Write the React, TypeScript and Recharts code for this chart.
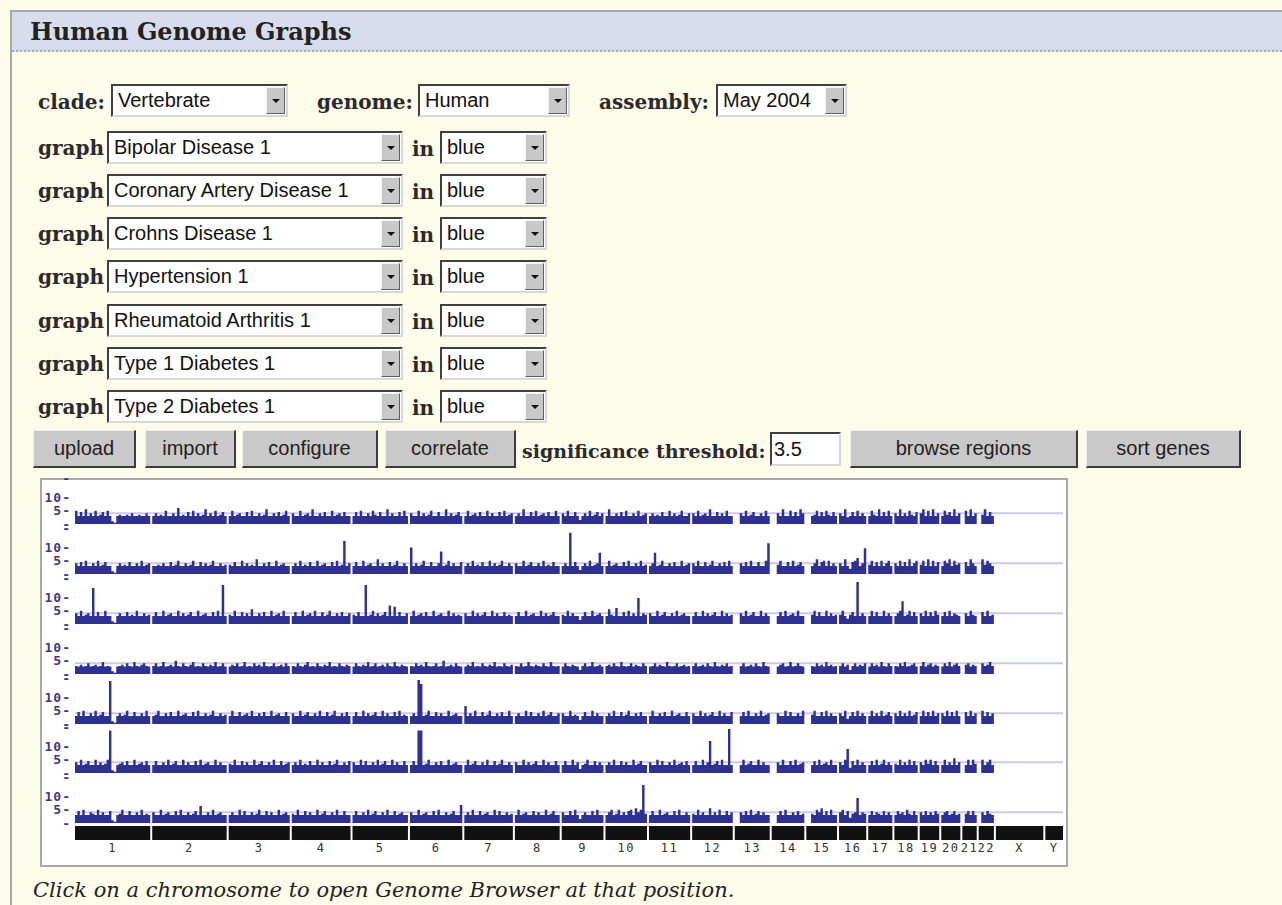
import { ComposedChart, Area, XAxis, YAxis, ReferenceLine } from 'recharts';

// chromosome layout (hg17, Mb)
const chromNames = ['1', '2', '3', '4', '5', '6', '7', '8', '9', '10', '11', '12', '13', '14', '15', '16', '17', '18', '19', '20', '21', '22', 'X', 'Y'];
const chromSizes = [245.5, 243.0, 199.4, 191.7, 181.0, 170.9, 158.5, 146.3, 136.4, 135.4, 134.5, 132.5, 114.1, 106.4, 100.3, 88.8, 78.8, 76.1, 63.8, 62.4, 46.9, 49.6, 154.8, 57.7];
const GAP = 6.5;

const graphNames = ['Bipolar Disease 1', 'Coronary Artery Disease 1', 'Crohns Disease 1', 'Hypertension 1', 'Rheumatoid Arthritis 1', 'Type 1 Diabetes 1', 'Type 2 Diabetes 1'];
const trackTicks = [0, 5, 10, 17];
const threshold = 4;

type Bins = (number | null)[][];

// -log10 p per ~8Mb bin, one array per chromosome 1..22
const bipolar: Bins = [
  [5, 3, 4.5, 3, 5.5, 3, 4, 3, 5, 3, 3.5, 4.5, 3, 5, 3, 1, 0.5, 3, 3.5, 3, 3, 3.5, 3, 4, 3, 3, 3.5, 3, 3, 4, 3],
  [3, 4, 3, 3.5, 3, 5, 3, 3, 4, 3, 6, 3, 3.5, 3, 4.5, 3, 5, 3, 4, 3, 3.5, 5.5, 3, 4, 3, 5, 3, 3.5, 4.5, 3],
  [3, 5, 3, 3.5, 4, 3, 3, 4.5, 3, 5, 3, 3, 4, 3, 3.5, 5.5, 3, 3, 4, 3, 4.5, 3, 3.5, 5, 3],
  [4, 3, 3, 5, 3, 3.5, 4, 3, 5.5, 3, 3, 4, 3, 4.5, 3, 3, 5, 3, 3.5, 4, 3, 4.5, 3, 3],
  [3, 4.5, 3, 5, 3, 3, 4, 3, 5, 3.5, 3, 4.5, 3, 3, 5.5, 3, 4, 3, 3, 4.5, 3, 5, 3],
  [4, 3, 3, 5, 3, 4, 3, 3.5, 5, 3, 3, 4.5, 3, 3, 5.5, 3, 4, 3, 3.5, 4.5, 3],
  [3, 5, 3, 3.5, 4, 3, 4.5, 3, 3, 5, 3, 4, 3, 3, 4.5, 3, 5, 3, 3.5, 4],
  [3, 4, 3, 5.5, 3, 3, 4.5, 3, 5, 3, 3.5, 4, 3, 4.5, 3, 3, 5, 3],
  [4, 3, 5, 3, 3, 4.5, 3, 1.5, 3, 4, 3, 5, 3, 3.5, 4.5, 3, 4],
  [3, 5.5, 3, 3, 4, 3, 4.5, 3, 5, 3, 3, 4, 3, 5, 3, 3.5, 4],
  [3, 4, 3, 3.5, 3, 4.5, 3, 3, 5, 3, 4, 3, 3.5, 5, 3, 3, 4],
  [4, 3, 5, 3, 3.5, 4, 3, 5.5, 3, 3, 4.5, 3, 4, 3, 5, 3, 3],
  [null, null, 4, 3, 5, 3, 3.5, 4.5, 3, 3, 4, 3, 5, 3],
  [null, null, 4, 3, 5.5, 3, 3, 5, 3, 4.5, 3, 5.5, 4],
  [null, null, 3, 3.5, 5, 3, 4.5, 3, 5, 3.5, 3, 4.5, 3],
  [4, 3, 5.5, 2.5, 3, 4.5, 3, 5, 3, 4, 3],
  [3, 5, 3.5, 3, 5.5, 3, 4.5, 3, 5, 3],
  [4, 3, 5.5, 3, 4, 3, 5, 3.5, 3, 4.5],
  [4, 5.5, 3, 5, 3, 5.5, 3, 4],
  [3, 5, 3.5, 4.5, 3, 5.5, 3, 4],
  [null, 5, 3, 5.5, 3, 4],
  [null, 3.5, 5.5, 3, 4.5, 3],
];

const cad: Bins = [
  [4, 3, 4.5, 3, 5, 3, 3, 4, 3, 5, 3, 3.5, 4.5, 3, 3, 1, 0.5, 3, 4, 3, 3.5, 3, 4.5, 3, 3, 4, 3, 5, 3, 3.5, 4],
  [3, 3, 3.5, 3, 4, 3, 3, 4.5, 3, 3.5, 5, 3, 3, 4, 3, 3.5, 5, 3, 3, 4.5, 3, 4, 3, 3.5, 5, 3, 3, 4, 3, 3.5],
  [3.5, 3, 4.5, 3, 3, 5, 3, 4, 3, 3.5, 3, 5.5, 3, 3, 4, 3, 4.5, 3, 3, 5, 3, 3.5, 4, 3, 3],
  [3, 4, 3, 5, 3, 3.5, 3, 4.5, 3, 3, 5, 3, 3.5, 4, 3, 3, 4.5, 3, 5, 3, 3.5, 12.4, 3, 4],
  [3, 4.5, 3, 3, 5, 3, 3.5, 4, 3, 3, 5.5, 3, 4, 3, 3, 4.5, 3, 3.5, 5, 3, 3, 4, 3],
  [10, 3, 4, 3, 3.5, 5, 3, 3, 4.5, 3, 3, 4, 8.5, 3, 3.5, 5, 3, 4, 3, 3, 4.5],
  [3, 4, 3, 5, 3, 3.5, 3, 4.5, 3, 3, 5, 3, 4, 3, 3.5, 5, 3, 3, 4, 3],
  [4, 3, 3, 5, 3, 3.5, 4.5, 3, 3, 4, 3, 5, 3, 3.5, 3, 4.5, 3, 3],
  [3, 4, 3, 15.5, 3, 4.5, 3, 1.5, 3, 4, 3, 5, 3, 3.5, 4, 8, 3],
  [3, 5, 3, 3.5, 4, 3, 3, 4.5, 3, 5, 3, 3, 4, 3, 5, 3, 3.5],
  [3, 4, 8, 3, 3.5, 5, 3, 3, 4, 3, 4.5, 3, 3, 5, 3, 3.5, 4],
  [4, 3, 5, 3, 3, 4.5, 3, 3.5, 5, 3, 3, 4, 3, 4.5, 3, 5, 3],
  [null, null, 4, 3, 4.5, 3, 5, 3, 3, 4.5, 3, 3, 5, 11.6],
  [null, null, 3.5, 5, 3, 3, 4.5, 3, 5, 3, 3.5, 4.5, 3],
  [null, null, 3, 4, 5.5, 3, 4.5, 5, 3, 5, 3, 4, 3],
  [4, 3, 5.5, 3, 2, 4.5, 5, 6, 3, 4, 9.7],
  [3.5, 5, 3, 4.5, 3, 5, 3, 4, 5, 3],
  [4, 3, 5, 3, 4.5, 3, 5.5, 3, 4, 5],
  [3.5, 5, 3, 5.5, 3, 5, 3, 4.5],
  [3, 5, 4, 5.5, 3, 5, 3.5, 4],
  [null, 4.5, 3, 5.5, 4, 3],
  [null, 5.5, 3.5, 5, 4, 3],
];

const crohns: Bins = [
  [4, 3, 5, 3, 3.5, 4, 3, 13.5, 3, 4.5, 3, 3, 5, 3, 3, 1, 0.5, 3, 4, 3, 3, 4.5, 3, 3.5, 3, 5, 3, 3, 4, 3, 3.5],
  [3, 4.5, 3, 3, 5, 3, 3.5, 4, 3, 3, 5, 3, 4, 3, 3.5, 4.5, 3, 3, 5, 3, 3.5, 4, 3, 3, 4.5, 3, 5, 3, 14.7, 3],
  [3.5, 3, 5, 3, 3, 4.5, 3, 4, 3, 5.5, 3, 3, 4, 3, 4.5, 3, 3, 5, 3, 3.5, 4, 3, 5, 3, 3],
  [3, 4.5, 3, 3, 5, 3, 3.5, 4, 3, 5, 3, 3, 4.5, 3, 3.5, 5, 3, 3, 4, 3, 4.5, 3, 3, 4],
  [3.5, 3, 4.5, 3, 3, 14.7, 3, 3.5, 5, 3, 4, 3, 3.5, 4.5, 3, 7, 3, 6.5, 3, 4.5, 3, 3, 4],
  [3, 5, 3, 3.5, 4, 3, 4.5, 3, 3, 5, 3, 3.5, 4, 3, 3, 5, 3, 4, 3, 3.5, 3],
  [4, 3, 3, 5, 3, 4, 3, 3.5, 4.5, 3, 3, 5, 3, 4, 3, 3, 4.5, 3, 3.5, 3],
  [3, 4.5, 3, 3, 5, 3, 3.5, 4, 3, 3, 5, 3, 4, 3, 3.5, 4.5, 3, 3],
  [3.5, 3, 5, 3, 4, 3, 3, 1.5, 3, 4.5, 3, 3, 5, 3, 3.5, 4, 3],
  [3, 5.5, 3.5, 3, 6, 3, 3, 4.5, 3, 5, 3, 4, 3, 9.8, 3, 4, 3.5],
  [4, 3, 3, 5, 3, 3.5, 4.5, 3, 3, 4, 3, 5, 3, 3.5, 4, 3, 3],
  [3, 4.5, 3, 3, 5, 3, 4, 3, 3.5, 4.5, 3, 3, 5, 3, 4, 3, 3.5],
  [null, null, 4, 3, 5, 3, 3.5, 4.5, 3, 3, 5, 3, 4, 3],
  [null, null, 3, 4.5, 3, 5, 3, 3.5, 4, 3, 5, 3, 3],
  [null, null, 3.5, 5, 3, 4.5, 3, 3, 5, 3, 4, 3, 3.5],
  [3.5, 5, 3, 2, 3.5, 4.5, 3, 15.8, 3, 4, 3],
  [3, 5, 3, 4.5, 3, 3, 5, 3, 4, 3],
  [3, 4, 5, 8.6, 3, 3.5, 5, 3, 4.5, 3],
  [4, 3, 5, 3, 4.5, 3, 5, 3.5],
  [3, 4.5, 3, 5, 3, 4, 3.5, 3],
  [null, 4, 3, 5, 3.5, 3],
  [null, 4.5, 3, 5, 3, 3.5],
];

const hypertension: Bins = [
  [3, 2.8, 3.5, 2.8, 3, 4, 2.8, 3, 3.5, 2.8, 3, 4.5, 2.8, 3, 2.8, 1, 0.5, 2.8, 3, 3.5, 2.8, 4, 3, 2.8, 4.5, 3, 2.8, 3.5, 4, 3, 2.8],
  [3, 4, 2.8, 3, 4.5, 2.8, 3, 3.5, 2.8, 5, 3, 2.8, 4, 3, 2.8, 3.5, 4.5, 2.8, 3, 2.8, 4, 3, 2.8, 3.5, 3, 4.5, 2.8, 3, 4, 2.8],
  [2.8, 3.5, 3, 4, 2.8, 3, 4.5, 2.8, 3, 2.8, 4, 3, 3.5, 2.8, 4.5, 3, 2.8, 3, 4, 2.8, 3, 3.5, 2.8, 4, 3],
  [3, 2.8, 4, 3, 2.8, 3.5, 4.5, 2.8, 3, 2.8, 4, 3, 2.8, 3.5, 3, 4.5, 2.8, 3, 2.8, 4, 3, 2.8, 3.5, 3],
  [2.8, 4, 3, 2.8, 3.5, 3, 4.5, 2.8, 3, 4, 2.8, 3, 3.5, 2.8, 4, 3, 2.8, 4.5, 3, 2.8, 3.5, 3, 2.8],
  [3, 2.8, 4, 3, 3.5, 2.8, 4.5, 3, 2.8, 3, 4, 2.8, 3, 5, 2.8, 3, 3.5, 2.8, 4, 3, 2.8],
  [2.8, 3.5, 3, 4.5, 2.8, 3, 2.8, 4, 3, 2.8, 3.5, 3, 4.5, 2.8, 3, 2.8, 4, 3, 2.8, 3.5],
  [3, 2.8, 4, 2.8, 3, 4.5, 3, 2.8, 3.5, 3, 2.8, 4, 3, 2.8, 4.5, 3, 2.8, 3],
  [2.8, 4, 3, 2.8, 3.5, 3, 2.8, 1.5, 3, 4, 2.8, 3, 4.5, 2.8, 3, 3.5, 2.8],
  [3, 3.5, 2.8, 4, 3, 2.8, 4.5, 3, 2.8, 3, 4, 2.8, 3.5, 3, 2.8, 4, 3],
  [2.8, 3, 4, 2.8, 3.5, 3, 2.8, 4.5, 3, 2.8, 3, 4, 2.8, 3, 3.5, 2.8, 3],
  [3, 4, 2.8, 3, 3.5, 2.8, 4, 3, 2.8, 4.5, 3, 2.8, 3.5, 3, 4, 2.8, 3],
  [null, null, 3, 4, 2.8, 3, 3.5, 2.8, 4, 3, 2.8, 4.5, 3, 2.8],
  [null, null, 2.8, 3.5, 4, 2.8, 3, 4.5, 2.8, 3, 4, 3, 2.8],
  [null, null, 3, 2.8, 4, 3, 3.5, 2.8, 4.5, 3, 3.5, 2.8, 3],
  [3, 4, 2.8, 3.5, 1.5, 3, 4, 2.8, 3.5, 3, 4],
  [2.8, 4, 3, 3.5, 2.8, 4.5, 3, 2.8, 4, 3],
  [3, 2.8, 4, 3, 4.5, 2.8, 3, 3.5, 4, 2.8],
  [3, 4.5, 2.8, 3.5, 4, 2.8, 3.5, 3],
  [2.8, 4, 3, 4.5, 2.8, 3.5, 4, 3],
  [null, 3.5, 4, 2.8, 3.5, 3],
  [null, 4, 3, 3.5, 4.5, 3],
];

const rheumatoid: Bins = [
  [3, 4.5, 3, 5, 3, 3, 4, 3, 5, 3, 3.5, 4.5, 3, 3, 16.2, 1, 0.5, 3, 4, 3, 3.5, 5, 3, 3, 4.5, 3, 3, 4, 3, 5, 3],
  [3, 3.5, 5, 3, 3, 4, 3, 4.5, 3, 3, 5, 3, 3.5, 4, 3, 3, 4.5, 3, 5, 3, 3, 4, 3, 3.5, 5, 3, 3, 4, 3, 3.5],
  [3, 5, 3, 3, 4.5, 3, 3.5, 4, 3, 5, 3, 3, 4, 3, 4.5, 3, 3, 5, 3, 3.5, 4, 3, 3, 4.5, 3],
  [4, 3, 3, 5, 3, 3.5, 4.5, 3, 3, 4, 3, 5, 3, 3, 4.5, 3, 3.5, 5, 3, 3, 4, 3, 4.5, 3],
  [3, 4.5, 3, 3, 5, 3, 4, 3, 3.5, 4.5, 3, 3, 5, 3, 4, 3, 3, 4.5, 3, 5, 3, 3.5, 3],
  [3, 4, 3, 16.5, 15, 3, 3.5, 5, 3, 3, 4.5, 3, 4, 3, 3, 5, 3, 3.5, 4, 3, 3],
  [6.8, 3, 4, 3, 5, 3, 3, 4.5, 3, 3.5, 5, 3, 3, 4, 3, 4.5, 3, 3, 5, 3],
  [3, 4, 3, 3, 5, 3, 4.5, 3, 3, 4, 3, 5, 3, 3.5, 4.5, 3, 3, 4],
  [4, 3, 3, 5, 3, 3.5, 3, 1.5, 3, 4.5, 3, 3, 5, 3, 4, 3, 3],
  [3, 4, 3, 5, 3, 3, 4.5, 3, 3.5, 5, 3, 3, 4, 3, 4.5, 3, 3],
  [3, 5, 3, 3, 4, 3, 4.5, 3, 3, 5, 3, 3.5, 4, 3, 3, 4.5, 3],
  [4, 3, 3, 5, 3, 4, 3, 3.5, 4.5, 3, 3, 5, 3, 4, 3, 3, 4.5],
  [null, null, 3, 4.5, 3, 5, 3, 3, 4, 3, 5, 3, 3.5, 4],
  [null, null, 4, 3, 3, 5, 3, 4.5, 3, 3, 4, 3, 5],
  [null, null, 3.5, 5, 3, 3, 4.5, 3, 5, 3, 4, 3, 3],
  [4, 3, 5, 2, 3, 4.5, 3, 5, 3, 4, 3],
  [3, 5, 3, 4, 3, 5, 3, 3.5, 4.5, 3],
  [4, 3, 5, 3, 4, 3, 5, 3, 3.5, 4.5],
  [3, 5, 3, 4.5, 3, 5, 3, 4],
  [4, 3, 5, 3, 4.5, 3, 5, 3],
  [null, 4.5, 3, 5, 3, 4],
  [null, 5, 3, 4.5, 3, 4],
];

const t1d: Bins = [
  [4, 3, 5, 3, 3.5, 4.5, 3, 3, 5, 3, 4, 3, 3.5, 5, 16, 1, 0.5, 3, 3.5, 4, 3, 4.5, 3, 3, 5, 3, 3.5, 4, 3, 4.5, 3],
  [3, 4.5, 3, 3, 4, 3, 5, 3, 3.5, 4.5, 3, 3, 5, 3, 4, 3, 3, 4.5, 3, 5, 3, 3.5, 4, 3, 3, 5, 3, 4, 3, 3],
  [3.5, 3, 5, 3, 3, 4.5, 3, 4, 3, 3, 5, 3, 3.5, 4.5, 3, 3, 4, 3, 5, 3, 3, 4.5, 3, 3.5, 4],
  [3, 4, 3, 5, 3, 3.5, 3, 4.5, 3, 3, 5, 3, 4, 3, 3, 4.5, 3, 3.5, 5, 3, 3, 4, 3, 4.5],
  [4, 3, 3, 5, 3, 4.5, 3, 3, 4, 3, 5, 3, 3.5, 4.5, 3, 3, 5, 3, 4, 3, 3, 4.5, 3],
  [3, 4.5, 3, 16, 16, 3, 3.5, 5, 3, 3, 4, 3, 4.5, 3, 3, 5, 3, 3.5, 4, 3, 3],
  [3, 5, 3, 3.5, 4.5, 3, 3, 4, 3, 5, 3, 3, 4.5, 3, 3.5, 5, 3, 3, 4, 3],
  [4, 3, 3, 5, 3, 4, 3, 3.5, 4.5, 3, 3, 5, 3, 4, 3, 3, 4.5, 3],
  [3, 4.5, 3, 3, 5, 3, 4, 1.5, 3, 3.5, 5, 3, 3, 4.5, 3, 4, 3],
  [3, 4, 3, 5, 3, 3, 4.5, 3, 4, 3, 3, 5, 3, 3.5, 4.5, 3, 3],
  [4, 3, 3, 5, 3, 4.5, 3, 3, 4, 3, 5, 3, 3.5, 4, 3, 4.5, 3],
  [3, 4.5, 3, 3, 5, 3, 4, 12, 3, 3.5, 4.5, 3, 5, 3, 3, 16.5, 3],
  [null, null, 3, 5, 3, 3.5, 4.5, 3, 3, 5, 3, 4, 3, 3],
  [null, null, 4, 3, 5, 3, 3, 4.5, 3, 5, 3, 3.5, 4],
  [null, null, 3, 4.5, 3, 5, 3, 3.5, 4, 3, 5, 3, 3],
  [4, 3, 5, 9, 2, 4.5, 3, 5, 3, 4, 3],
  [3, 4.5, 3, 5, 3, 3.5, 5, 3, 4, 3],
  [3.5, 3, 5, 3, 4, 3, 5, 3, 4.5, 3],
  [4, 3, 5, 3.5, 5, 3, 4.5, 3],
  [3, 5, 3, 4, 3, 5.5, 3, 4],
  [null, 3, 5, 3, 5, 3.5],
  [null, 5, 3, 4, 5, 3],
];

const t2d: Bins = [
  [3, 4.5, 3, 5, 3, 3, 4, 3.5, 3, 5, 3, 4, 3, 3, 4.5, 1, 0.5, 3, 3.5, 5, 3, 3, 4.5, 3, 3, 4, 3, 5, 3, 3.5, 3],
  [4, 3, 3, 5, 3, 3.5, 4, 3, 3, 4.5, 3, 5, 3, 3, 4, 3, 3.5, 4.5, 3, 6.4, 3, 3, 4, 3, 5, 3, 3.5, 4, 3, 3],
  [3, 4, 3, 3, 5, 3, 4.5, 3, 3, 4, 3, 3.5, 5, 3, 3, 4.5, 3, 4, 3, 3, 5, 3, 3.5, 4, 3],
  [3.5, 3, 5, 3, 3, 4.5, 3, 4, 3, 3, 5, 3, 3.5, 4.5, 3, 3, 4, 3, 5, 3, 3, 4.5, 3, 3],
  [3, 4.5, 3, 3, 4, 3, 5, 3, 3.5, 4.5, 3, 3, 4, 3, 5, 3, 3, 4.5, 3, 3.5, 4, 3, 3],
  [4, 3, 3, 5, 3, 3.5, 4, 3, 3, 4.5, 3, 5, 3, 3, 4, 3, 3.5, 4.5, 3, 3, 6.8],
  [3, 4, 3, 5, 3, 3, 4.5, 3, 3.5, 4, 3, 3, 5, 3, 4.5, 3, 3, 4, 3, 3.5],
  [3, 5, 3, 3.5, 4, 3, 3, 4.5, 3, 4, 3, 3, 5, 3, 3.5, 4.5, 3, 3],
  [4, 3, 3, 4.5, 3, 5, 3, 1.5, 3, 4, 3, 3, 4.5, 3, 5, 3, 3],
  [3, 4, 5, 3, 3.5, 5, 3, 4, 3, 4.5, 5, 3, 5.5, 4, 5, 14.3, 3.5],
  [3, 4.5, 3, 3, 5, 3, 3.5, 4, 3, 3, 4.5, 3, 5, 3, 3, 4, 3],
  [3.5, 3, 5, 3, 4, 3, 3, 5.5, 3, 4, 3, 5, 3, 3, 4.5, 3, 4],
  [null, null, 4, 3, 4.5, 3, 5, 3, 3.5, 4.5, 3, 4, 3, 3],
  [null, null, 3, 4.5, 3, 5, 3, 3, 4, 3, 4.5, 3, 3.5],
  [null, null, 3.5, 3, 5, 4, 5.5, 3, 4.5, 3, 5, 3, 3],
  [4, 5, 3, 4.5, 2, 3.5, 4, 9.4, 3, 4, 3.5],
  [3, 4.5, 3, 4, 3.5, 3, 4.5, 3, 4, 3],
  [3, 4.5, 3.5, 4, 3, 5, 3.5, 3, 4.5, 3],
  [4, 3, 4.5, 3, 4, 3, 4.5, 3.5],
  [3, 4, 4.5, 3, 3.5, 4.5, 3, 3.5],
  [null, 3.5, 4.5, 3, 4.5, 3],
  [null, 4, 3, 4.5, 3.5, 3],
];

const tracks = [bipolar, cad, crohns, hypertension, rheumatoid, t1d, t2d];

const starts: number[] = [];
let acc = 0;
chromSizes.forEach((s) => {
  starts.push(acc);
  acc += s + GAP;
});
const TOTAL = acc - GAP;
const centers = chromSizes.map((s, i) => starts[i] + s / 2);

function buildTrack(values: Bins) {
  const rows: { x: number; y: number | null }[] = [];
  values.forEach((bins, c) => {
    const w = chromSizes[c] / bins.length;
    bins.forEach((v, j) => rows.push({ x: starts[c] + j * w, y: v }));
    rows.push({ x: starts[c] + chromSizes[c], y: bins[bins.length - 1] });
    rows.push({ x: starts[c] + chromSizes[c] + GAP / 2, y: null });
  });
  return rows;
}

// ideogram: one solid block per chromosome
const ideogram: { x: number; y: number | null }[] = [];
chromSizes.forEach((s, i) => {
  ideogram.push({ x: starts[i], y: 1 });
  ideogram.push({ x: starts[i] + s, y: 1 });
  ideogram.push({ x: starts[i] + s + GAP / 2, y: null });
});

const NAVY = '#2e3191';
const serifBold = { fontFamily: '"DejaVu Serif", serif', fontWeight: 700, color: '#2a2a2a' } as const;
const sans = '"Liberation Sans", Arial, sans-serif';

function TrackTick(props: any) {
  const { x, y, payload } = props;
  const v = payload.value;
  const label = v === 0 || v === 17 ? '-' : `${v}-`;
  return (
    <text x={x} y={y} textAnchor="end" dominantBaseline="central" fontFamily='"DejaVu Sans Mono", monospace' fontWeight={700} fontSize={13} letterSpacing={1} fill="#3a3a86">
      {label}
    </text>
  );
}

function ChromTick(props: any) {
  const { x, y, index } = props;
  return (
    <text x={x} y={y + 8} textAnchor="middle" dominantBaseline="central" fontFamily='"DejaVu Sans Mono", monospace' fontSize={12} letterSpacing={1.5} fill="#333">
      {chromNames[index]}
    </text>
  );
}

function Track({ values, top }: { values: Bins; top: number }) {
  const data = buildTrack(values);
  return (
    <div style={{ position: 'absolute', left: 40, top }}>
      <ComposedChart width={1027} height={54} data={data} margin={{ top: 0, right: 4, bottom: 4, left: 0 }}>
        <XAxis type="number" dataKey="x" domain={[0, TOTAL]} hide allowDataOverflow />
        <YAxis domain={[0, 18.8]} ticks={trackTicks} interval={0} width={35} axisLine={false} tickLine={false} tickSize={0} tickMargin={4} tick={<TrackTick />} allowDataOverflow />
        <ReferenceLine y={threshold} stroke="#cacaf0" strokeWidth={2} zIndex={0} />
        <Area type="stepAfter" dataKey="y" fill={NAVY} fillOpacity={1} stroke="none" connectNulls={false} dot={false} activeDot={false} isAnimationActive={false} />
      </ComposedChart>
    </div>
  );
}

function Select({ left, top, width, text }: { left: number; top: number; width: number; text: string }) {
  return (
    <div
      style={{
        position: 'absolute', left, top, width, height: 33, boxSizing: 'border-box', background: '#fff',
        borderTop: '2px solid #404040', borderLeft: '2px solid #404040', borderBottom: '2px solid #d8d8d8', borderRight: '2px solid #d8d8d8',
        fontFamily: sans, fontSize: 20, lineHeight: '29px', paddingLeft: 5, color: '#111', whiteSpace: 'nowrap', overflow: 'hidden',
      }}
    >
      {text}
      <div
        style={{
          position: 'absolute', right: 1, top: 1, bottom: 1, width: 17, background: '#c8c8c8',
          borderTop: '1px solid #f4f4f4', borderLeft: '1px solid #f4f4f4', borderRight: '1px solid #606060', borderBottom: '1px solid #606060',
        }}
      >
        <div style={{ position: 'absolute', left: 5, top: 11, width: 0, height: 0, borderLeft: '4px solid transparent', borderRight: '4px solid transparent', borderTop: '4px solid #111' }} />
      </div>
    </div>
  );
}

function Button({ left, width, text }: { left: number; width: number; text: string }) {
  return (
    <div
      style={{
        position: 'absolute', left, top: 430, width, height: 38, boxSizing: 'border-box', background: '#c9c9c9',
        borderTop: '1px solid #efefef', borderLeft: '1px solid #efefef', borderRight: '2px solid #3c3c3c', borderBottom: '2px solid #3c3c3c',
        fontFamily: sans, fontSize: 20, lineHeight: '34px', textAlign: 'center', color: '#222',
      }}
    >
      {text}
    </div>
  );
}

function Label({ left, top, text, size = 20 }: { left: number; top: number; text: string; size?: number }) {
  return (
    <div style={{ ...serifBold, position: 'absolute', left, top, fontSize: size, lineHeight: '33px', whiteSpace: 'nowrap' }}>
      {text}
    </div>
  );
}

const rowCenters = [147, 190, 233, 276, 320, 363, 406];

export default function App() {
  return (
    <div style={{ position: 'absolute', left: 0, top: 0, width: 1282, height: 905, background: '#fdfbea', overflow: 'hidden' }}>
      <div style={{ position: 'absolute', left: 10, top: 10, width: 1272, height: 895, borderLeft: '2px solid #a8a8a8', borderTop: '2px solid #a8a8a8', boxSizing: 'border-box' }} />
      <div style={{ position: 'absolute', left: 12, top: 12, width: 1270, height: 38, background: '#d8ddee', borderBottom: '2px dotted #a4aac4' }} />
      <div style={{ ...serifBold, position: 'absolute', left: 30, top: 16, fontSize: 24, lineHeight: '32px', color: '#222' }}>Human Genome Graphs</div>

      <Label left={38} top={86} text="clade:" />
      <Select left={111} top={84} width={177} text="Vertebrate" />
      <Label left={317} top={86} text="genome:" />
      <Select left={418} top={84} width={152} text="Human" />
      <Label left={599} top={86} text="assembly:" />
      <Select left={716} top={84} width={131} text="May 2004" />

      {graphNames.map((name, i) => (
        <div key={name}>
          <Label left={38} top={rowCenters[i] - 15} text="graph" />
          <Select left={107} top={rowCenters[i] - 16} width={296} text={name} />
          <Label left={412} top={rowCenters[i] - 14} text="in" />
          <Select left={440} top={rowCenters[i] - 16} width={107} text="blue" />
        </div>
      ))}

      <Button left={33} width={103} text="upload" />
      <Button left={145} width={91} text="import" />
      <Button left={242} width={136} text="configure" />
      <Button left={385} width={131} text="correlate" />
      <Label left={522} top={435} text="significance threshold:" size={19} />
      <div
        style={{
          position: 'absolute', left: 770, top: 432, width: 71, height: 34, boxSizing: 'border-box', background: '#fff',
          borderTop: '2px solid #404040', borderLeft: '2px solid #404040', borderBottom: '2px solid #d8d8d8', borderRight: '2px solid #d8d8d8',
          fontFamily: sans, fontSize: 20, lineHeight: '30px', paddingLeft: 2, color: '#111',
        }}
      >
        3.5
      </div>
      <Button left={850} width={228} text="browse regions" />
      <Button left={1086} width={155} text="sort genes" />

      <div style={{ position: 'absolute', left: 40, top: 478, width: 1028, height: 389, boxSizing: 'border-box', background: '#fff', border: '2px solid #a9a9a9' }} />
      {tracks.map((t, i) => (
        <Track key={i} values={t} top={474.3 + 49.8 * i} />
      ))}
      <div style={{ position: 'absolute', left: 40, top: 826 }}>
        <ComposedChart width={1027} height={36} data={ideogram} margin={{ top: 0, right: 4, bottom: 0, left: 35 }}>
          <XAxis type="number" dataKey="x" domain={[0, TOTAL]} ticks={centers} interval={0} axisLine={false} tickLine={false} tickSize={0} tickMargin={0} height={22} tick={<ChromTick />} allowDataOverflow />
          <YAxis domain={[0, 1]} hide />
          <Area type="linear" dataKey="y" fill="#111" fillOpacity={1} stroke="none" connectNulls={false} dot={false} activeDot={false} isAnimationActive={false} />
        </ComposedChart>
      </div>

      <div style={{ position: 'absolute', left: 33, top: 876, fontFamily: '"DejaVu Serif", serif', fontStyle: 'italic', fontSize: 21, lineHeight: '28px', color: '#222', whiteSpace: 'nowrap' }}>
        Click on a chromosome to open Genome Browser at that position.
      </div>
    </div>
  );
}
